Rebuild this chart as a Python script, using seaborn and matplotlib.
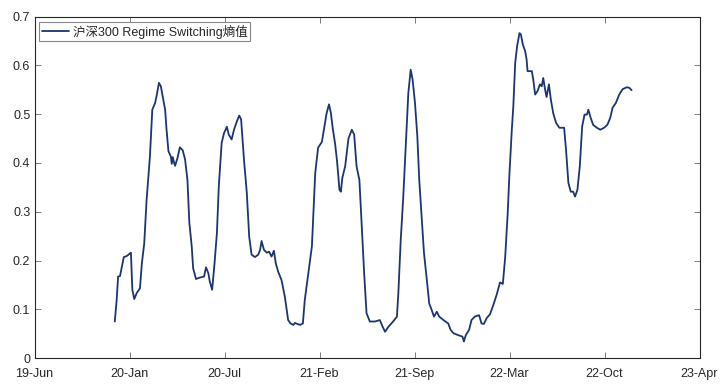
import matplotlib
matplotlib.use("Agg")
import matplotlib.pyplot as plt
import seaborn as sns
import pandas as pd

dates = [
    "2019-12-10", "2019-12-14", "2019-12-17", "2019-12-21", "2019-12-25", "2019-12-29",
    "2020-01-04", "2020-01-13", "2020-01-16", "2020-01-20", "2020-01-25", "2020-02-01",
    "2020-02-05", "2020-02-10", "2020-02-15", "2020-02-22", "2020-02-27", "2020-03-04",
    "2020-03-07", "2020-03-12", "2020-03-16", "2020-03-21", "2020-03-25", "2020-03-28",
    "2020-04-01", "2020-04-06", "2020-04-08", "2020-04-10", "2020-04-13", "2020-04-15",
    "2020-04-20", "2020-04-25", "2020-05-01", "2020-05-06", "2020-05-11", "2020-05-15",
    "2020-05-20", "2020-05-23", "2020-05-29", "2020-06-03", "2020-06-10", "2020-06-15",
    "2020-06-19", "2020-06-24", "2020-06-27", "2020-07-02", "2020-07-07", "2020-07-12",
    "2020-07-16", "2020-07-22", "2020-07-27", "2020-08-02", "2020-08-06", "2020-08-12",
    "2020-08-17", "2020-08-23", "2020-08-28", "2020-09-01", "2020-09-07", "2020-09-13",
    "2020-09-18", "2020-09-23", "2020-09-30", "2020-10-07", "2020-10-11", "2020-10-14",
    "2020-10-19", "2020-10-25", "2020-10-30", "2020-11-04", "2020-11-09", "2020-11-13",
    "2020-11-18", "2020-11-25", "2020-12-02", "2020-12-09", "2020-12-14", "2020-12-20",
    "2020-12-23", "2021-01-03", "2021-01-09", "2021-01-13", "2021-01-20", "2021-01-28",
    "2021-02-04", "2021-02-10", "2021-02-18", "2021-02-23", "2021-02-28", "2021-03-05",
    "2021-03-09", "2021-03-13", "2021-03-18", "2021-03-22", "2021-03-27", "2021-03-30",
    "2021-04-02", "2021-04-08", "2021-04-15", "2021-04-22", "2021-04-27", "2021-05-02",
    "2021-05-08", "2021-05-13", "2021-05-18", "2021-05-23", "2021-05-30", "2021-06-10",
    "2021-06-20", "2021-06-26", "2021-07-01", "2021-07-08", "2021-07-18", "2021-07-26",
    "2021-07-29", "2021-08-03", "2021-08-08", "2021-08-14", "2021-08-19", "2021-08-24",
    "2021-08-28", "2021-09-02", "2021-09-07", "2021-09-11", "2021-09-16", "2021-09-21",
    "2021-09-27", "2021-10-02", "2021-10-07", "2021-10-12", "2021-10-18", "2021-10-23",
    "2021-11-01", "2021-11-11", "2021-11-16", "2021-11-22", "2021-12-02", "2021-12-11",
    "2021-12-14", "2021-12-18", "2021-12-25", "2021-12-30", "2022-01-06", "2022-01-15",
    "2022-01-20", "2022-01-25", "2022-01-31", "2022-02-07", "2022-02-14", "2022-02-21",
    "2022-02-28", "2022-03-06", "2022-03-11", "2022-03-16", "2022-03-20", "2022-03-25",
    "2022-03-28", "2022-04-01", "2022-04-05", "2022-04-10", "2022-04-13", "2022-04-17",
    "2022-04-22", "2022-04-25", "2022-04-27", "2022-05-06", "2022-05-09", "2022-05-13",
    "2022-05-18", "2022-05-23", "2022-05-27", "2022-05-30", "2022-06-03", "2022-06-06",
    "2022-06-11", "2022-06-15", "2022-06-20", "2022-06-26", "2022-07-03", "2022-07-13",
    "2022-07-17", "2022-07-22", "2022-07-27", "2022-08-01", "2022-08-05", "2022-08-10",
    "2022-08-15", "2022-08-20", "2022-08-25", "2022-08-30", "2022-09-02", "2022-09-07",
    "2022-09-12", "2022-09-20", "2022-09-27", "2022-10-05", "2022-10-12", "2022-10-18",
    "2022-10-23", "2022-10-30", "2022-11-06", "2022-11-13", "2022-11-22", "2022-11-27",
    "2022-12-02",
]

entropy = [
    0.075, 0.119, 0.167, 0.168, 0.188, 0.207,
    0.209, 0.216, 0.140, 0.121, 0.133, 0.143,
    0.194, 0.235, 0.324, 0.413, 0.509, 0.523,
    0.537, 0.564, 0.557, 0.530, 0.509, 0.468,
    0.424, 0.413, 0.398, 0.412, 0.400, 0.394,
    0.410, 0.432, 0.426, 0.407, 0.365, 0.277,
    0.229, 0.184, 0.162, 0.164, 0.166, 0.167,
    0.186, 0.174, 0.157, 0.140, 0.194, 0.256,
    0.352, 0.441, 0.461, 0.474, 0.458, 0.448,
    0.468, 0.485, 0.497, 0.489, 0.407, 0.338,
    0.249, 0.212, 0.207, 0.212, 0.222, 0.240,
    0.222, 0.216, 0.218, 0.208, 0.220, 0.194,
    0.177, 0.160, 0.126, 0.078, 0.071, 0.068,
    0.072, 0.068, 0.071, 0.119, 0.170, 0.229,
    0.379, 0.431, 0.443, 0.472, 0.502, 0.520,
    0.502, 0.470, 0.438, 0.403, 0.345, 0.341,
    0.369, 0.393, 0.450, 0.468, 0.458, 0.393,
    0.365, 0.270, 0.174, 0.092, 0.075, 0.075,
    0.078, 0.064, 0.054, 0.064, 0.075, 0.085,
    0.133, 0.242, 0.324, 0.441, 0.543, 0.591,
    0.571, 0.523, 0.454, 0.365, 0.290, 0.215,
    0.160, 0.112, 0.099, 0.085, 0.095, 0.085,
    0.078, 0.071, 0.058, 0.051, 0.047, 0.044,
    0.034, 0.047, 0.058, 0.078, 0.085, 0.088,
    0.071, 0.070, 0.082, 0.090, 0.109, 0.130,
    0.155, 0.152, 0.208, 0.293, 0.380, 0.470,
    0.515, 0.605, 0.639, 0.666, 0.663, 0.643,
    0.629, 0.612, 0.588, 0.588, 0.571, 0.540,
    0.547, 0.561, 0.557, 0.574, 0.550, 0.535,
    0.561, 0.530, 0.502, 0.482, 0.472, 0.472,
    0.427, 0.359, 0.341, 0.341, 0.331, 0.345,
    0.393, 0.475, 0.499, 0.499, 0.509, 0.492,
    0.478, 0.472, 0.468, 0.472, 0.478, 0.492,
    0.513, 0.523, 0.540, 0.551, 0.555, 0.554,
    0.549,
]

tick_dates = ["2019-06-24", "2020-01-10", "2020-07-28", "2021-02-13",
              "2021-09-01", "2022-03-20", "2022-10-06", "2023-04-24"]
tick_labels = ["19-Jun", "20-Jan", "20-Jul", "21-Feb", "21-Sep", "22-Mar", "22-Oct", "23-Apr"]
y_ticks = [0, 0.1, 0.2, 0.3, 0.4, 0.5, 0.6, 0.7]
y_labels = ["0", "0.1", "0.2", "0.3", "0.4", "0.5", "0.6", "0.7"]
series_name = "沪深300 Regime Switching熵值"

sns.set_theme(style="white")
plt.rcParams["font.family"] = ["Liberation Sans", "Noto Sans CJK SC", "DejaVu Sans"]

df = pd.DataFrame({"date": pd.to_datetime(dates), "value": entropy})
df["series"] = series_name

fig = plt.figure(figsize=(7.2, 3.87), dpi=100)
ax = fig.add_axes([34.5 / 720, 1 - 358.1 / 387, 665 / 720, 341.6 / 387])

sns.lineplot(data=df, x="date", y="value", hue="series",
             palette=["#1c3570"], linewidth=1.3, ax=ax)

ax.set_xlim(pd.Timestamp(tick_dates[0]), pd.Timestamp(tick_dates[-1]))
ax.set_ylim(0, 0.7)
ax.set_xticks(pd.to_datetime(tick_dates))
ax.set_xticklabels(tick_labels)
ax.set_yticks(y_ticks)
ax.set_yticklabels(y_labels)
ax.set_xlabel("")
ax.set_ylabel("")

for s in ax.spines.values():
    s.set_visible(True)
    s.set_color("#262626")
    s.set_linewidth(0.8)
ax.tick_params(axis="both", which="both", direction="in", length=4, width=0.6,
               colors="#666666", labelcolor="#262626", labelsize=9,
               top=True, right=True, bottom=True, left=True)
ax.tick_params(axis="x", pad=7)
ax.tick_params(axis="y", pad=3)

leg = ax.legend(loc="upper left", bbox_to_anchor=(0.0068, 0.984), borderaxespad=0,
                frameon=True, fancybox=False, edgecolor="#888888", framealpha=1,
                fontsize=9, handlelength=2.2, handletextpad=0.3, borderpad=0.2)
leg.get_frame().set_linewidth(0.8)

fig.savefig("out.png", dpi=100)
